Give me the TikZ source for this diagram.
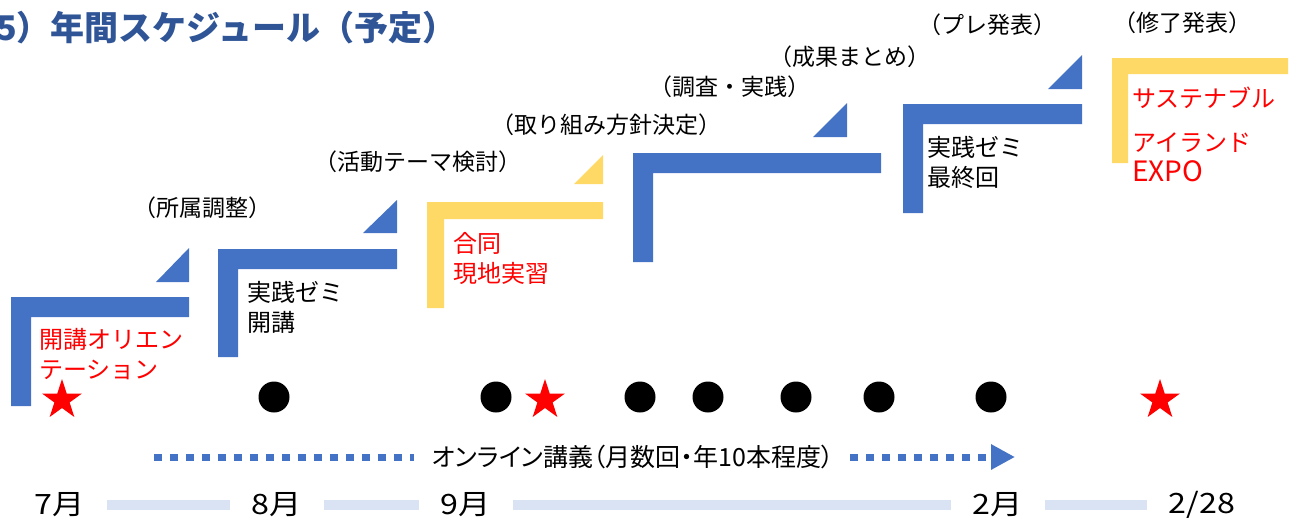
\documentclass[tikz,border=0pt]{standalone}
\usepackage{fontspec}
\setmainfont{Noto Sans CJK JP}
\newfontfamily\jpprop{Noto Sans CJK JP}[RawFeature=+palt]
\newfontfamily\monthfont{Noto Sans CJK JP}[FakeStretch=1.15]
\usepackage{xcolor}
\usetikzlibrary{arrows.meta}
\usetikzlibrary{shapes.geometric}

\definecolor{barblue}{HTML}{4472C4}
\definecolor{baryellow}{HTML}{FFD966}
\definecolor{titleblue}{HTML}{2F5597}
\definecolor{paleblue}{HTML}{DAE3F3}

\tikzset{
  lbl/.style={font=\fontsize{23pt}{26pt}\selectfont, inner sep=0pt},
  stepnote/.style={font=\fontsize{24pt}{30pt}\selectfont, align=left, inner sep=0pt, anchor=west},
  dotmark/.style={circle, fill=black, inner sep=0pt, minimum size=31pt},
  starmark/.style={star, star points=5, star point ratio=2.618, fill=red, inner sep=0pt, minimum size=42pt},
  month/.style={font=\monthfont\fontsize{28pt}{30pt}\selectfont, inner sep=0pt},
  mbar/.style={paleblue, line width=10pt, shorten <=22pt, shorten >=22pt},
  onl/.style={barblue, line width=7pt, dash pattern=on 8pt off 8pt}
}

\begin{document}
\begin{tikzpicture}[x=1pt, y=-1pt]
      \useasboundingbox (0,0) rectangle (1298,523);

      % title
      \node[anchor=west, inner sep=0pt, text=titleblue, font=\fontsize{34pt}{36pt}\selectfont\bfseries] (title) at (-4,28) {5）年間スケジュール（予定）};

      % steps
      \fill[barblue] (11,297) -- (189,297) -- (189,317) -- (31,317) -- (31,406) -- (11,406) -- cycle;
      \fill[barblue] (189,248) -- (156,282) -- (189,282) -- cycle;
      \fill[barblue] (218,249) -- (397,249) -- (397,269) -- (238,269) -- (238,357) -- (218,357) -- cycle;
      \fill[barblue] (397,200) -- (363,233) -- (397,233) -- cycle;
      \fill[baryellow] (427,202) -- (603,202) -- (603,219) -- (444,219) -- (444,308) -- (427,308) -- cycle;
      \fill[baryellow] (603,155) -- (574,184) -- (603,184) -- cycle;
      \fill[barblue] (633,153) -- (881,153) -- (881,173) -- (653,173) -- (653,262) -- (633,262) -- cycle;
      \fill[barblue] (847,103) -- (813,137) -- (847,137) -- cycle;
      \fill[barblue] (903,104) -- (1082,104) -- (1082,124) -- (923,124) -- (923,213) -- (903,213) -- cycle;
      \fill[barblue] (1082,55) -- (1048,89) -- (1082,89) -- cycle;
      \fill[baryellow] (1112,58) -- (1288,58) -- (1288,74) -- (1128,74) -- (1128,163) -- (1112,163) -- cycle;

      % step texts
      \node[stepnote, text=red] (orient) at (39,354) {開講オリエン\\テーション};
      \node[stepnote] (zemi1) at (247,307) {実践ゼミ\\開講};
      \node[stepnote, text=red] (godo) at (453,258) {合同\\現地実習};
      \node[stepnote] (zemi2) at (927,162) {実践ゼミ\\最終回};
      \node[stepnote, text=red] (expo) at (1132,134) {サステナブル\\[14pt]アイランド\\{\fontsize{28pt}{30pt}\selectfont EXPO}};

      % labels
      \node[lbl] (shozoku) at (202,208) {（所属調整）};
      \node[lbl] (theme) at (418,162) {（活動テーマ検討）};
      \node[lbl] (hoshin) at (606,125) {（取り組み方針決定）};
      \node[lbl] (chosa) at (730,87) {（調査・実践）};
      \node[lbl] (seika) at (850,57) {（成果まとめ）};
      \node[lbl] (pre) at (987,25) {（プレ発表）};
      \node[lbl] (shuryo) at (1182,23) {（修了発表）};

      % marks
      \node[starmark] (s1) at (62,400) {};
      \node[dotmark] (d1) at (274,397) {};
      \node[dotmark] (d2) at (496,397) {};
      \node[starmark] (s2) at (545,400) {};
      \node[dotmark] (d3) at (640,397) {};
      \node[dotmark] (d4) at (708,397) {};
      \node[dotmark] (d5) at (796,397) {};
      \node[dotmark] (d6) at (879,397) {};
      \node[dotmark] (d7) at (991,397) {};
      \node[starmark] (s3) at (1160,400) {};

      % online lectures
      \node[font=\fontsize{25pt}{28pt}\selectfont\jpprop, inner sep=0pt] (online) at (633,457) {オンライン講義（月数回・年10本程度）};
      \coordinate (on0) at (154,457);
      \coordinate (on1) at (414,457);
      \coordinate (on2) at (850,457);
      \coordinate (on3) at (1015,457);
      \draw[onl] (on0) -- (on1);
      \draw[onl, -{Triangle[length=24pt, width=24pt]}] (on2) -- (on3);

      % months
      \node[month] (m7) at (60,505) {7月};
      \node[month] (m8) at (277,505) {8月};
      \node[month] (m9) at (466,505) {9月};
      \node[month] (m2) at (998,505) {2月};
      \node[month] (m228) at (1202,505) {2/28};
      \draw[mbar] (m7) -- (m8);
      \draw[mbar] (m8) -- (m9);
      \draw[mbar] (m9) -- (m2);
      \draw[mbar] (m2) -- (m228);
    \end{tikzpicture}
\end{document}
